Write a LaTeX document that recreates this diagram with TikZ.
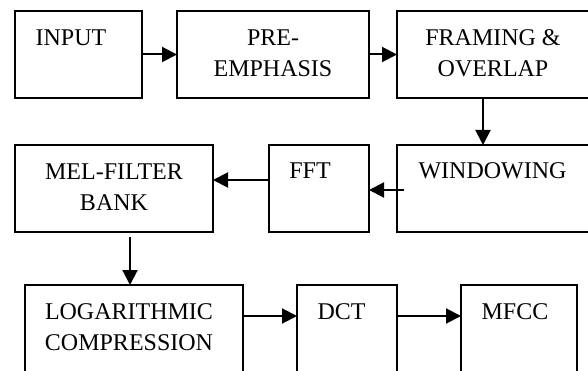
\documentclass[tikz,border=0pt]{standalone}
\usepackage{fontspec}
\setmainfont{Liberation Serif}
\usetikzlibrary{arrows.meta,calc}
\tikzset{
  blk/.style={draw, line width=1.8pt, minimum height=87pt, inner sep=0pt, outer sep=0pt},
  lbl/.style={anchor=north, inner sep=0pt, align=center, font=\fontsize{24}{31}\selectfont},
  arr/.style={line width=2pt, -{Triangle[length=15pt,width=15pt]}}
}
\begin{document}
\begin{tikzpicture}[x=1pt,y=-1pt]
\useasboundingbox (0,0) rectangle (588,371);
\clip (0,0) rectangle (588,371);
% boxes
\node[blk, minimum width=127pt] (input) at (78.5,54.5) {};
\node[blk, minimum width=192pt] (pre) at (273,54.5) {};
\node[blk, minimum width=192pt] (fram) at (493,54.5) {};
\node[blk, minimum width=192pt] (win) at (493,188.5) {};
\node[blk, minimum width=100pt] (fft) at (319,188.5) {};
\node[blk, minimum width=198pt] (mel) at (114,188.5) {};
\node[blk, minimum width=218pt] (log) at (134,328.5) {};
\node[blk, minimum width=100pt] (dct) at (347,328.5) {};
\node[blk, minimum width=116pt] (mfcc) at (519,328.5) {};
% labels
\node[lbl] (tinput) at ($(input.north)+(-7.5,17)$) {\rule{0pt}{17pt}INPUT};
\node[lbl] (tpre) at ($(pre.north)+(0,17)$) {\rule{0pt}{17pt}PRE-\\EMPHASIS};
\node[lbl] (tfram) at ($(fram.north)+(0,17)$) {\rule{0pt}{17pt}FRAMING \&\\OVERLAP};
\node[lbl] (twin) at ($(win.north)+(-0.5,16)$) {\rule{0pt}{17pt}WINDOWING};
\node[lbl] (tfft) at ($(fft.north)+(-9,16)$) {\rule{0pt}{17pt}FFT};
\node[lbl] (tmel) at ($(mel.north)+(0,17)$) {\rule{0pt}{17pt}MEL-FILTER\\BANK};
\node[lbl] (tlog) at ($(log.north)+(-5,17)$) {\rule{0pt}{17pt}LOGARITHMIC\\COMPRESSION};
\node[lbl] (tdct) at ($(dct.north)+(-5.5,17)$) {\rule{0pt}{17pt}DCT};
\node[lbl] (tmfcc) at ($(mfcc.north)+(-4,17)$) {\rule{0pt}{17pt}MFCC};
% arrows
\draw[arr] (input.east) -- (pre.west);
\draw[arr] (pre.east) -- (fram.west);
\draw[arr] ([xshift=-10pt]fram.south) -- ([xshift=-10pt]win.north);
\draw[arr] ([xshift=7pt,yshift=-1.5pt]win.west) -- ([yshift=-1.5pt]fft.east);
\draw[arr] ([yshift=8.5pt]fft.west) -- ([yshift=8.5pt]mel.east);
\draw[arr] ([xshift=16pt,yshift=-5pt]mel.south) -- ([xshift=-4pt]log.north);
\draw[arr] ([yshift=12.5pt]log.east) -- ([yshift=12.5pt]dct.west);
\draw[arr] ([yshift=12.5pt]dct.east) -- ([yshift=12.5pt]mfcc.west);
\end{tikzpicture}
\end{document}
